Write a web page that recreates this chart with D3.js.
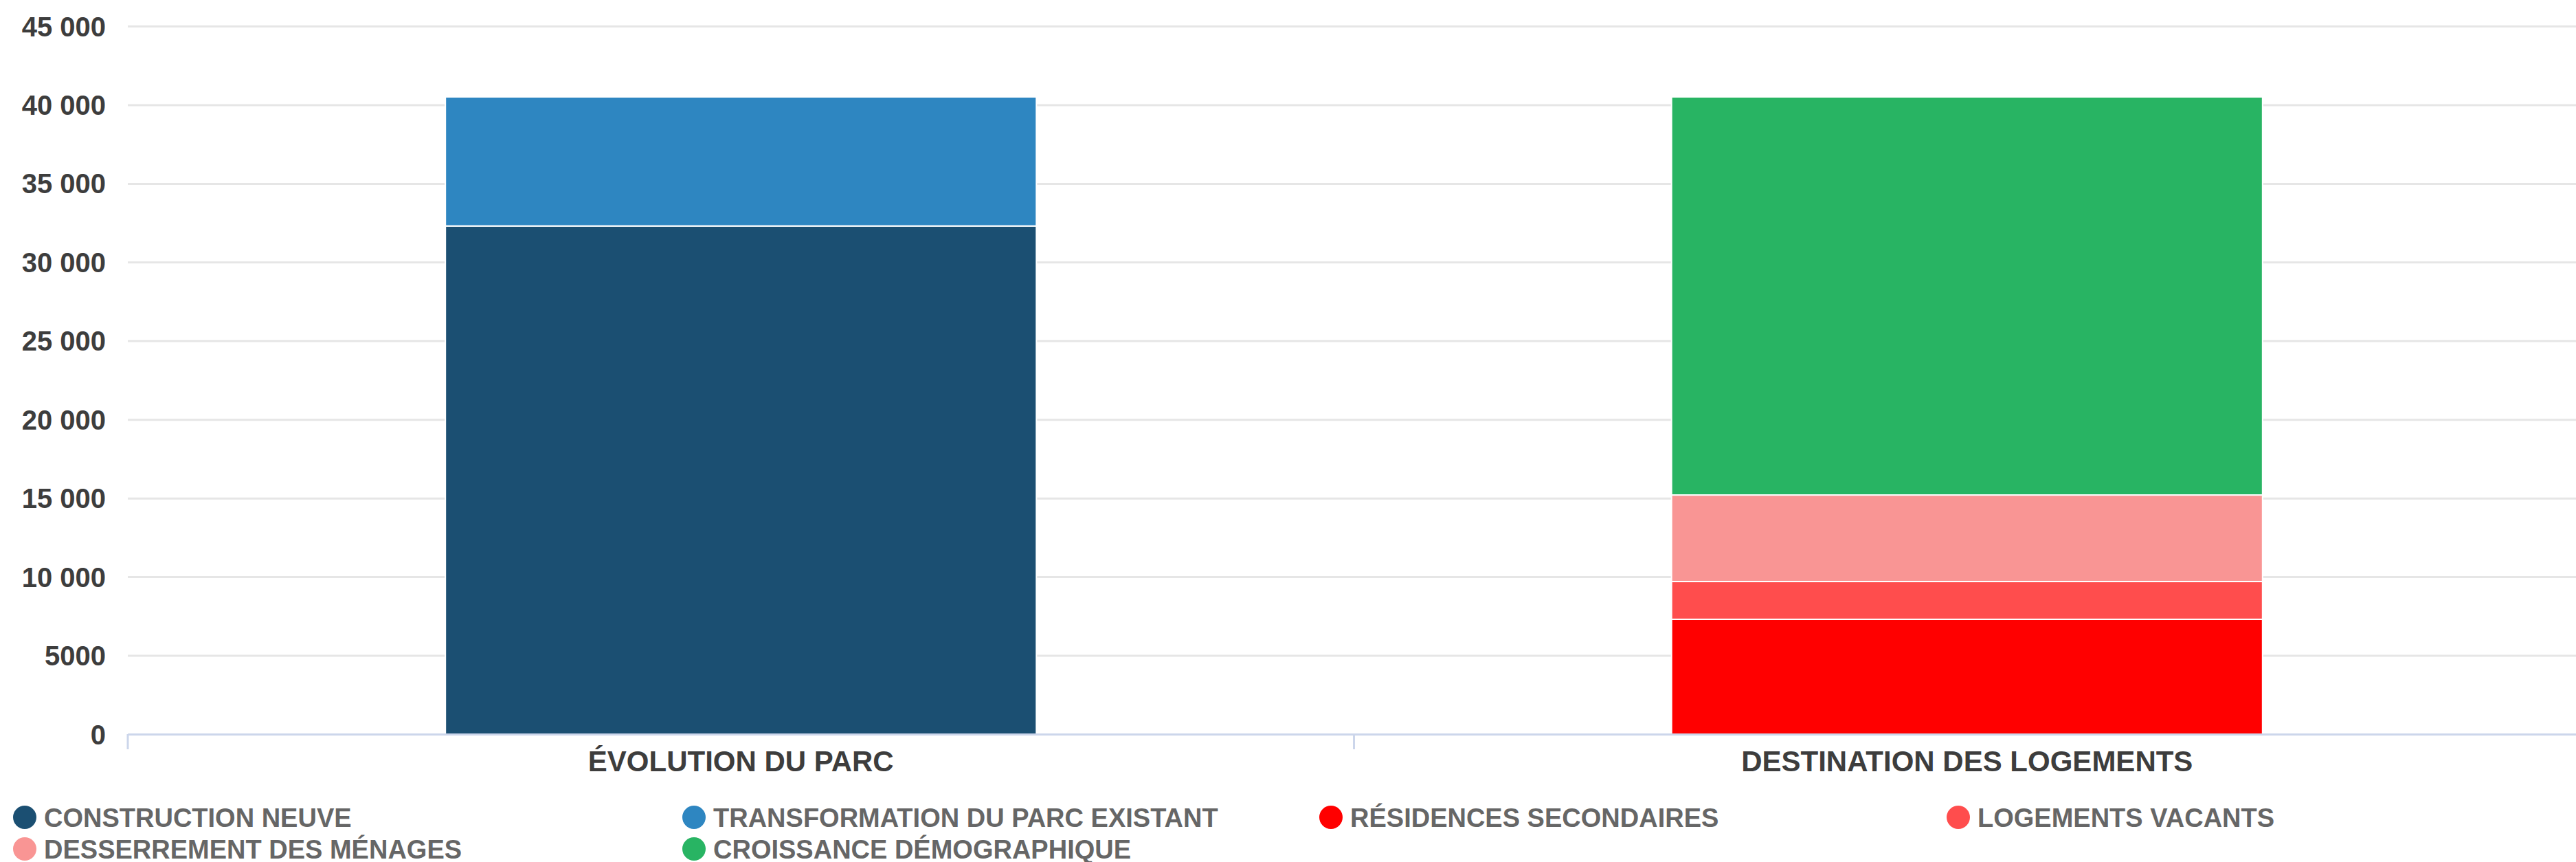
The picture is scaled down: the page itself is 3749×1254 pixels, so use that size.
<!DOCTYPE html>
<html>
<head>
<meta charset="utf-8">
<script src="https://cdn.jsdelivr.net/npm/d3@7"></script>
<style>
  body { margin: 0; background: #fff; }
  svg { display: block; font-family: "Liberation Sans", Arial, sans-serif; }
  .grid line { stroke: #e6e6e6; stroke-width: 3; }
  .grid .domain { display: none; }
  .yaxis text { font-size: 40px; font-weight: bold; fill: #3d3d3d; }
  .xaxis text { font-size: 42px; font-weight: bold; fill: #3d3d3d; }
  .legend text { font-size: 38px; font-weight: bold; fill: #666; }
</style>
</head>
<body>
<script>
const categories = ["ÉVOLUTION DU PARC", "DESTINATION DES LOGEMENTS"];
const seriesNames = [
  "CONSTRUCTION NEUVE",
  "TRANSFORMATION DU PARC EXISTANT",
  "RÉSIDENCES SECONDAIRES",
  "LOGEMENTS VACANTS",
  "DESSERREMENT DES MÉNAGES",
  "CROISSANCE DÉMOGRAPHIQUE"
];
const seriesColors = ["#1b4f72", "#2e86c1", "#ff0000", "#ff4d4d", "#f99594", "#28b463"];
// valeurs par catégorie (même ordre que categories)
const constructionNeuve = [32300, 0];
const transformationParc = [8200, 0];
const residencesSecondaires = [0, 7300];
const logementsVacants = [0, 2400];
const desserrementMenages = [0, 5500];
const croissanceDemo = [0, 25300];
const yTicks = [0, 5000, 10000, 15000, 20000, 25000, 30000, 35000, 40000, 45000];

const width = 3749;
const height = 1254;
const margin = { top: 38, right: 0, bottom: 186, left: 186 };

const allValues = [constructionNeuve, transformationParc, residencesSecondaires,
  logementsVacants, desserrementMenages, croissanceDemo];

// table pour d3.stack
const table = categories.map((c, i) => {
  const row = { cat: c };
  seriesNames.forEach((s, j) => { row[s] = allValues[j][i]; });
  return row;
});
const stacked = d3.stack().keys(seriesNames)(table);

const svg = d3.select("body").append("svg").attr("width", width).attr("height", height);

const xScale = d3.scaleBand()
  .domain(categories)
  .range([margin.left, width - margin.right + 6]);

const yScale = d3.scaleLinear()
  .domain([0, 45000])
  .range([height - margin.bottom, margin.top]);

const fmt = v => v >= 10000 ? d3.format(",")(v).replace(/,/g, " ") : String(v);

// grille
svg.append("g")
  .attr("class", "grid")
  .attr("transform", "translate(" + margin.left + ",0)")
  .call(d3.axisLeft(yScale).tickValues(yTicks).tickSize(-(width - margin.left - margin.right)).tickFormat(""));

// axe y (libellés)
const yAxis = svg.append("g")
  .attr("class", "yaxis")
  .attr("transform", "translate(" + (margin.left - 32) + ",0)")
  .call(d3.axisLeft(yScale).tickValues(yTicks).tickSize(0).tickPadding(0).tickFormat(fmt));
yAxis.select(".domain").remove();
yAxis.selectAll("text").attr("dy", "0.35em");

// barres empilées
const barW = xScale.bandwidth() * 0.482;
svg.append("g")
  .selectAll("g")
  .data(stacked)
  .join("g")
  .attr("fill", (d, i) => seriesColors[i])
  .selectAll("rect")
  .data(d => d.filter(p => p[1] - p[0] > 0))
  .join("rect")
  .attr("x", d => xScale(d.data.cat) + (xScale.bandwidth() - barW) / 2)
  .attr("width", barW)
  .attr("y", d => yScale(d[1]))
  .attr("height", d => yScale(d[0]) - yScale(d[1]))
  .attr("stroke", "#fff")
  .attr("stroke-width", 2);

// axe x
const xAxis = svg.append("g")
  .attr("class", "xaxis")
  .attr("transform", "translate(0," + (height - margin.bottom) + ")")
  .call(d3.axisBottom(xScale).tickSize(0).tickPadding(24));
xAxis.select(".domain").attr("stroke", "#ccd6eb").attr("stroke-width", 3);
xAxis.selectAll("text").attr("dy", "0.71em");

// petites graduations entre catégories
const bounds = [margin.left, margin.left + xScale.bandwidth()];
svg.append("g")
  .selectAll("line")
  .data(bounds)
  .join("line")
  .attr("x1", d => d).attr("x2", d => d)
  .attr("y1", height - margin.bottom)
  .attr("y2", height - margin.bottom + 22)
  .attr("stroke", "#ccd6eb")
  .attr("stroke-width", 3);

// légende
const legendCols = [36, 1010, 1937, 2850];
const legend = svg.append("g").attr("class", "legend");
const item = legend.selectAll("g")
  .data(seriesNames)
  .join("g")
  .attr("transform", (d, i) => "translate(" + legendCols[i % 4] + "," + (1189 + Math.floor(i / 4) * 46) + ")");
item.append("circle")
  .attr("cx", 0)
  .attr("cy", 0)
  .attr("r", 17)
  .attr("fill", (d, i) => seriesColors[i]);
item.append("text")
  .attr("x", 28)
  .attr("dy", "0.36em")
  .text(d => d);
</script>
</body>
</html>
